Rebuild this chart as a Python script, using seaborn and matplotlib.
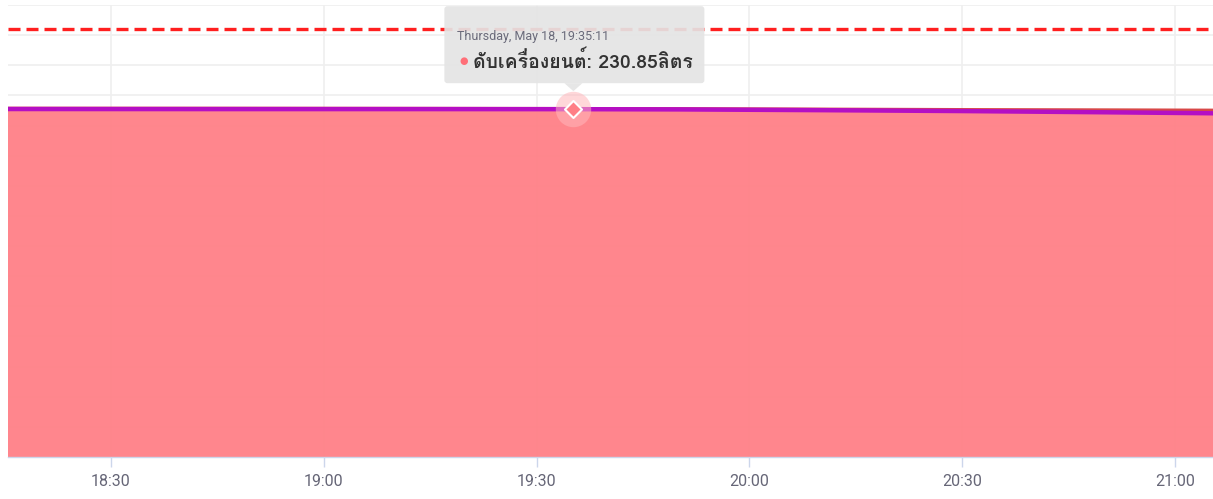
import matplotlib
matplotlib.use('Agg')
import matplotlib.pyplot as plt
import matplotlib.dates as mdates
from matplotlib import font_manager
from matplotlib.ft2font import FT2Font
from matplotlib.patches import FancyBboxPatch, Polygon
import pandas as pd
import seaborn as sns

# data
day = '2023-05-18 '
times = ['18:15:00', '18:45:00', '19:15:00', '19:35:11', '19:50:00', '20:10:00', '20:30:00', '20:50:00', '21:06:00']
engine_off = [231.6, 231.6, 231.5, 231.4, 231.3, 231.0, 230.7, 230.5, 230.3]
fuel_level = [230.95, 230.9, 230.9, 230.85, 230.7, 230.2, 229.6, 228.8, 228.1]
threshold = 284
tip_time = '19:35:11'
tip_value = 230.85
tip_header = 'Thursday, May 18, 19:35:11'
tip_label = 'ดับเครื่องยนต์: 230.85ลิตร'
x_ticks = ['18:30', '19:00', '19:30', '20:00', '20:30', '21:00']
x_range = ['18:15:29', '21:05:21']
y_range = [0, 300]
y_grid_step = 20

df = pd.DataFrame({'time': pd.to_datetime([day + t for t in times]),
                   'engine_off': engine_off, 'fuel_level': fuel_level})


def thai_family():
    """Find an installed font that has Thai glyphs."""
    for f in font_manager.fontManager.ttflist:
        try:
            if 0x0E14 in FT2Font(f.fname).get_charmap():
                return f.name
        except Exception:
            pass
    return 'DejaVu Sans'


sns.set_theme(style='whitegrid')
plt.rcParams['font.family'] = ['Roboto', 'DejaVu Sans']
thai = thai_family()

fig = plt.figure(figsize=(12.13, 4.99), dpi=100)
ax = fig.add_axes([8 / 1213, 42 / 499, 1205 / 1213, 452 / 499])

ax.fill_between(df['time'], df['engine_off'], 0, color='#ff7f86', alpha=0.94, lw=0, zorder=2)
sns.lineplot(data=df, x='time', y='engine_off', color='#d84848', lw=2, ax=ax, zorder=3)
sns.lineplot(data=df, x='time', y='fuel_level', color='#b40fc4', lw=3.2, ax=ax, zorder=4)
ax.axhline(threshold, color='#ff1f1f', lw=2.4, dashes=(3.6, 1.8), zorder=4)

ax.set_xlim(pd.to_datetime([day + t for t in x_range]))
ax.set_ylim(*y_range)
ax.set_yticks(range(y_range[0], y_range[1] + 1, y_grid_step))
ax.set_xticks(pd.to_datetime([day + t for t in x_ticks]))
ax.xaxis.set_major_formatter(mdates.DateFormatter('%H:%M'))
ax.grid(True, color='#efefef', lw=1.2, zorder=0)
ax.set_axisbelow(True)
ax.set_xlabel('')
ax.set_ylabel('')
ax.tick_params(axis='y', length=0, labelleft=False)
ax.tick_params(axis='x', direction='out', length=7.5, width=1, color='#ccd6eb',
               labelsize=11.5, labelcolor='#666677', pad=5, bottom=True)
for s in ['top', 'left', 'right']:
    ax.spines[s].set_visible(False)
ax.spines['bottom'].set_color('#ccd6eb')
ax.spines['bottom'].set_linewidth(1)
ax.spines['bottom'].set_zorder(5)

# hover marker
tip_x = pd.to_datetime(day + tip_time)
ax.scatter([tip_x], [tip_value], s=650, color='#ffb6bb', alpha=0.55, lw=0, zorder=5)
ax.scatter([tip_x], [tip_value], marker='D', s=75, color='#ff7f86', edgecolor='white', lw=1.5, zorder=6)

# tooltip in display pixels, placed from the marker position
fig.canvas.draw()
px, py = ax.transData.transform((mdates.date2num(tip_x), tip_value))
box_w, box_h = 260, 77
bx = px - 129
by = py + 26
box = FancyBboxPatch((bx, by), box_w, box_h, boxstyle='round,pad=0,rounding_size=3',
                     transform=None, facecolor='#e4e4e4', edgecolor='none', alpha=0.92, zorder=10)
fig.patches.append(box)
pointer = Polygon([(px - 9, by), (px + 9, by), (px, by - 8)], closed=True,
                  transform=None, facecolor='#e4e4e4', edgecolor='none', alpha=0.92, zorder=10)
fig.patches.append(pointer)
W, H = fig.bbox.width, fig.bbox.height
fig.text((bx + 13) / W, (by + box_h - 30) / H, tip_header, fontsize=9, color='#6a6a7a',
         family=['Roboto', 'DejaVu Sans'], va='center', ha='left', zorder=11)
fig.text((bx + 15) / W, (by + box_h - 55) / H, '\u25cf', fontsize=7, color='#ff6f78',
         va='center', ha='left', zorder=11)
fig.text((bx + 29) / W, (by + box_h - 55) / H, tip_label, fontsize=14, color='#333333',
         family=[thai, 'DejaVu Sans'], fontweight='bold', va='center', ha='left', zorder=11)

plt.savefig('out.png', dpi=100)
plt.close()
